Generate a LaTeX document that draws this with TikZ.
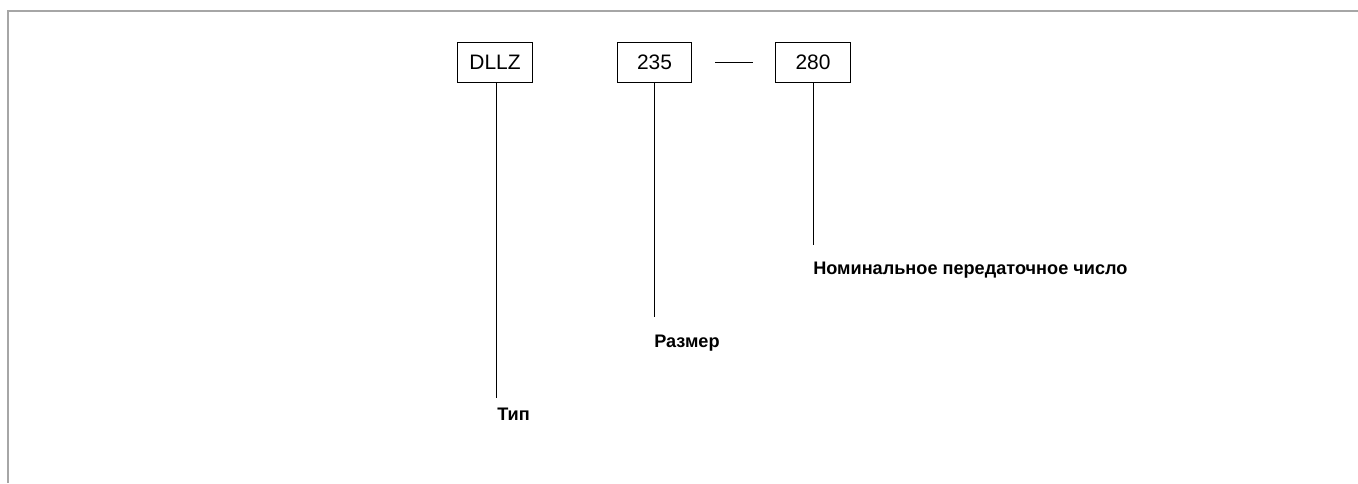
\documentclass[tikz,border=0pt]{standalone}
\usepackage{fontspec}
\setmainfont{Liberation Sans}
\usepackage{xcolor}
\usetikzlibrary{positioning}

\begin{document}
\begin{tikzpicture}[
    x=0.75pt, y=-0.75pt,
    box/.style={draw, line width=0.75pt, minimum height=30pt,
                minimum width=56pt, inner sep=0pt, font=\fontsize{15.7}{18}\selectfont},
    lbl/.style={inner sep=0pt, anchor=base west, font=\fontsize{13.6}{16}\selectfont\bfseries},
    lead/.style={line width=0.75pt}
  ]
  \useasboundingbox (0,0) rectangle (1358,483);
  % Frame (top and left edges only)
  \draw[gray!70, line width=1.2pt] (8,483) -- (8,11) -- (1358,11);

  % Code boxes
  \node[box] (type) at (495,62) {DLLZ};
  \node[box] (size) at (654.5,62) {235};
  \node[box] (ratio) at (813,62) {280};

  % Leader ends
  \coordinate (typeEnd) at (496,398);
  \coordinate (sizeEnd) at (654,317);
  \coordinate (ratioEnd) at (813,245);

  % Labels
  \node[lbl] (typeLbl) at (497,420) {Тип};
  \node[lbl] (sizeLbl) at (654,347) {Размер};
  \node[lbl] (ratioLbl) at (813,274) {Номинальное передаточное число};

  % Lines
  \draw[lead] (type.south -| typeEnd) -- (typeEnd);
  \draw[lead] (size.south -| sizeEnd) -- (sizeEnd);
  \draw[lead] (ratio.south) -- (ratioEnd);
  \draw[lead, shorten <=17pt, shorten >=17pt] (size) -- (ratio);
\end{tikzpicture}
\end{document}
